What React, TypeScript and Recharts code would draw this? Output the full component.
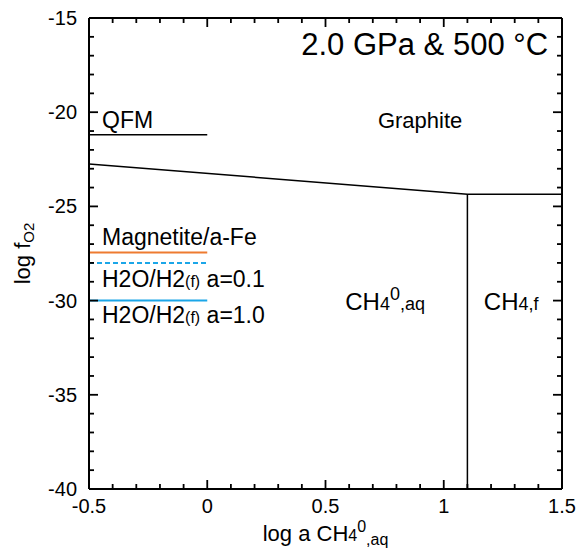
import { ComposedChart, Line, XAxis, YAxis, ReferenceDot } from "recharts"

// axis ticks (majors get labels)
const xTicks = [-0.5, -0.4, -0.3, -0.2, -0.1, 0, 0.1, 0.2, 0.3, 0.4, 0.5, 0.6, 0.7, 0.8, 0.9, 1, 1.1, 1.2, 1.3, 1.4, 1.5]
const yTicks = [-40, -39, -38, -37, -36, -35, -34, -33, -32, -31, -30, -29, -28, -27, -26, -25, -24, -23, -22, -21, -20, -19, -18, -17, -16, -15]

// buffer lines on the left
const bufferX = [-0.5, 0]
const qfmY = [-21.2, -21.2]
const magnetiteY = [-27.45, -27.45]
const h2oLowY = [-28.0, -28.0]
const h2oUnitY = [-30.0, -30.0]

// phase boundaries
const graphiteX = [-0.5, 1.1, 1.5]
const graphiteY = [-22.75, -24.35, -24.35]
const ch4X = [1.1, 1.1]
const ch4Y = [-24.35, -40]

const pts = (xs: number[], ys: number[]) => xs.map((x, i) => ({ x, y: ys[i] }))

const isMajorX = (v: number) => Math.abs(v * 2 - Math.round(v * 2)) < 1e-6
const isMajorY = (v: number) => Math.abs(v / 5 - Math.round(v / 5)) < 1e-6

const MAJOR = 9
const MINOR = 5
const TICK_W = 1.8
const FONT = "'Liberation Sans', Arial, sans-serif"

function BottomTick({ x, y, payload }: any) {
  const major = isMajorX(payload.value)
  return (
    <g>
      <line x1={x} x2={x} y1={y} y2={y - (major ? MAJOR : MINOR)} stroke="#000" strokeWidth={TICK_W} />
      {major && (
        <text x={x} y={y + 24} textAnchor="middle" fontSize={20} fill="#000">
          {payload.value === 0 ? "0" : String(payload.value)}
        </text>
      )}
    </g>
  )
}

function TopTick({ x, y, payload }: any) {
  const major = isMajorX(payload.value)
  return <line x1={x} x2={x} y1={y} y2={y + (major ? MAJOR : MINOR)} stroke="#000" strokeWidth={TICK_W} />
}

function LeftTick({ x, y, payload }: any) {
  const major = isMajorY(payload.value)
  return (
    <g>
      <line x1={x} x2={x + (major ? MAJOR : MINOR)} y1={y} y2={y} stroke="#000" strokeWidth={TICK_W} />
      {major && (
        <text x={x - 12} y={y + 7} textAnchor="end" fontSize={20} fill="#000">
          {String(payload.value)}
        </text>
      )}
    </g>
  )
}

function RightTick({ x, y, payload }: any) {
  const major = isMajorY(payload.value)
  return <line x1={x} x2={x - (major ? MAJOR : MINOR)} y1={y} y2={y} stroke="#000" strokeWidth={TICK_W} />
}

const note = (key: string, x: number, y: number, draw: (px: number, py: number) => any) => (
  <ReferenceDot
    key={key}
    x={x}
    y={y}
    r={0}
    fill="none"
    stroke="none"
    ifOverflow="visible"
    label={{ content: (p: any) => draw(p.viewBox.x, p.viewBox.y) }}
  />
)

export default function App() {
  return (
    <div style={{ position: "absolute", left: 0, top: 0, fontFamily: FONT }}>
      <ComposedChart width={581} height={550} margin={{ top: 17, right: 18, bottom: 0, left: 0 }}>
        <XAxis
          type="number"
          dataKey="x"
          domain={[-0.5, 1.5]}
          allowDataOverflow
          ticks={xTicks}
          interval={0}
          height={61}
          tickSize={0}
          tickMargin={0}
          axisLine={{ stroke: "#000", strokeWidth: 2 }}
          tick={<BottomTick />}
          label={{
            content: (p: any) => (
              <text x={p.viewBox.x + p.viewBox.width / 2} y={p.viewBox.y + 52} textAnchor="middle" fontSize={22} fill="#000">
                log a CH<tspan fontSize={16}>4</tspan>
                <tspan fontSize={16} dy={-9}>0</tspan>
                <tspan fontSize={16} dy={13}>,aq</tspan>
              </text>
            ),
          }}
        />
        <XAxis
          xAxisId="top"
          orientation="top"
          type="number"
          dataKey="x"
          domain={[-0.5, 1.5]}
          allowDataOverflow
          ticks={xTicks}
          interval={0}
          height={1}
          tickSize={0}
          tickMargin={0}
          axisLine={{ stroke: "#000", strokeWidth: 2 }}
          tick={<TopTick />}
        />
        <YAxis
          type="number"
          domain={[-40, -15]}
          allowDataOverflow
          ticks={yTicks}
          interval={0}
          width={89}
          tickSize={0}
          tickMargin={0}
          axisLine={{ stroke: "#000", strokeWidth: 2 }}
          tick={<LeftTick />}
          label={{
            content: (p: any) => {
              const cx = 30
              const cy = p.viewBox.y + p.viewBox.height / 2
              return (
                <text x={cx} y={cy} transform={`rotate(-90 ${cx} ${cy})`} textAnchor="middle" fontSize={22} fill="#000">
                  log f<tspan fontSize={15} dy={4}>O2</tspan>
                </text>
              )
            },
          }}
        />
        <YAxis
          yAxisId="right"
          orientation="right"
          type="number"
          domain={[-40, -15]}
          allowDataOverflow
          ticks={yTicks}
          interval={0}
          width={1}
          tickSize={0}
          tickMargin={0}
          axisLine={{ stroke: "#000", strokeWidth: 2 }}
          tick={<RightTick />}
        />

        {/* invisible series so the mirrored frame axes get a scale */}
        <Line xAxisId="top" yAxisId="right" data={pts(graphiteX, graphiteY)} dataKey="y" stroke="none" dot={false} isAnimationActive={false} />

        <Line data={pts(bufferX, qfmY)} dataKey="y" type="linear" stroke="#000" strokeWidth={1.5} dot={false} isAnimationActive={false} />
        <Line data={pts(bufferX, magnetiteY)} dataKey="y" type="linear" stroke="#ee7b30" strokeWidth={2} dot={false} isAnimationActive={false} />
        <Line data={pts(bufferX, h2oLowY)} dataKey="y" type="linear" stroke="#1ba6e8" strokeWidth={2} strokeDasharray="5 3" dot={false} isAnimationActive={false} />
        <Line data={pts(bufferX, h2oUnitY)} dataKey="y" type="linear" stroke="#1ba6e8" strokeWidth={2} dot={false} isAnimationActive={false} />
        <Line data={pts(graphiteX, graphiteY)} dataKey="y" type="linear" stroke="#000" strokeWidth={1.5} dot={false} isAnimationActive={false} />
        <Line data={pts(ch4X, ch4Y)} dataKey="y" type="linear" stroke="#000" strokeWidth={1.5} dot={false} isAnimationActive={false} />

        {note("title", 1.441, -16.96, (x, y) => (
          <text x={x} y={y} textAnchor="end" fontSize={31} fill="#000">2.0 GPa &amp; 500 °C</text>
        ))}
        {note("qfm", -0.445, -20.84, (x, y) => (
          <text x={x} y={y} fontSize={23} fill="#000">QFM</text>
        ))}
        {note("graphite", 0.9, -20.84, (x, y) => (
          <text x={x} y={y} textAnchor="middle" fontSize={22} fill="#000">Graphite</text>
        ))}
        {note("magnetite", -0.445, -27.05, (x, y) => (
          <text x={x} y={y} fontSize={23} fill="#000">Magnetite/a-Fe</text>
        ))}
        {note("h2o01", -0.445, -29.28, (x, y) => (
          <text x={x} y={y} fontSize={23} fill="#000">
            H2O/H2<tspan fontSize={16}>(f)</tspan> a=0.1
          </text>
        ))}
        {note("h2o10", -0.445, -31.19, (x, y) => (
          <text x={x} y={y} fontSize={23} fill="#000">
            H2O/H2<tspan fontSize={16}>(f)</tspan> a=1.0
          </text>
        ))}
        {note("ch4aq", 0.752, -30.5, (x, y) => (
          <text x={x} y={y} textAnchor="middle" fontSize={24} fill="#000">
            CH<tspan fontSize={18}>4</tspan>
            <tspan fontSize={18} dy={-10}>0</tspan>
            <tspan fontSize={18} dy={10}>,aq</tspan>
          </text>
        ))}
        {note("ch4f", 1.285, -30.5, (x, y) => (
          <text x={x} y={y} textAnchor="middle" fontSize={24} fill="#000">
            CH<tspan fontSize={18}>4,f</tspan>
          </text>
        ))}
      </ComposedChart>
    </div>
  )
}
